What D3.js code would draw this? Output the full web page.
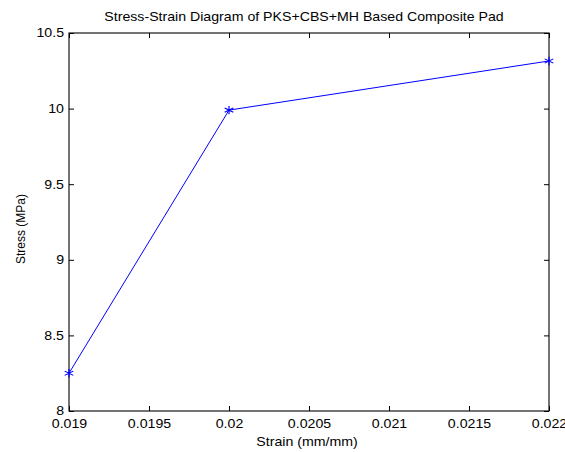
<!DOCTYPE html>
<html>
<head>
<meta charset="utf-8">
<script src="https://cdn.jsdelivr.net/npm/d3@7"></script>
<style>
  html, body { margin: 0; padding: 0; background: #fff; }
  svg text { font-family: "Liberation Sans", Arial, sans-serif; fill: #000; }
</style>
</head>
<body>
<script>
// Measured strain / stress pairs
const strain = [0.019, 0.020, 0.022];
const stress = [8.25, 9.99, 10.315];

const xTicks = [0.019, 0.0195, 0.02, 0.0205, 0.021, 0.0215, 0.022];
const xTickLabels = ["0.019", "0.0195", "0.02", "0.0205", "0.021", "0.0215", "0.022"];
const yTicks = [8, 8.5, 9, 9.5, 10, 10.5];
const yTickLabels = ["8", "8.5", "9", "9.5", "10", "10.5"];

const titleText = "Stress-Strain Diagram of PKS+CBS+MH Based Composite Pad";
const xLabelText = "Strain (mm/mm)";
const yLabelText = "Stress (MPa)";

const W = 565, H = 452;
const m = { left: 69, right: 16, top: 33, bottom: 41 };
const FS = 12;       // base font size
const SX = 1.18;     // horizontal stretch of horizontal text

const svg = d3.select("body").append("svg")
  .attr("width", W).attr("height", H);

const x = d3.scaleLinear().domain([0.019, 0.022]).range([m.left, W - m.right]);
const y = d3.scaleLinear().domain([8, 10.5]).range([H - m.bottom, m.top]);

const x0 = x.range()[0], x1 = x.range()[1];
const y0 = y.range()[0], y1 = y.range()[1];
const tickLen = 5;

// axes with inward ticks
const gx = svg.append("g").attr("transform", `translate(0,${y0})`)
  .call(d3.axisBottom(x).tickValues(xTicks).tickFormat((d, i) => xTickLabels[i])
    .tickSizeInner(-tickLen).tickSizeOuter(0).tickPadding(8));
const gy = svg.append("g").attr("transform", `translate(${x0},0)`)
  .call(d3.axisLeft(y).tickValues(yTicks).tickFormat((d, i) => yTickLabels[i])
    .tickSizeInner(-tickLen).tickSizeOuter(0).tickPadding(5));
const gxt = svg.append("g").attr("transform", `translate(0,${y1})`)
  .call(d3.axisTop(x).tickValues(xTicks).tickFormat("")
    .tickSizeInner(-tickLen).tickSizeOuter(0));
const gyr = svg.append("g").attr("transform", `translate(${x1},0)`)
  .call(d3.axisRight(y).tickValues(yTicks).tickFormat("")
    .tickSizeInner(-tickLen).tickSizeOuter(0));

[gx, gy, gxt, gyr].forEach(g => {
  g.select(".domain").remove();
  g.selectAll("line").attr("stroke", "#000").attr("stroke-width", 1);
  g.selectAll("text")
    .attr("font-size", FS).attr("fill", "#000")
    .attr("font-family", "'Liberation Sans', Arial, sans-serif")
    .each(function () {
      // widen each tick label around its own anchor point
      const t = d3.select(this);
      const tx = +t.attr("x") || 0, ty = +t.attr("y") || 0;
      t.attr("x", 0).attr("y", 0)
        .attr("transform", `translate(${tx},${ty}) scale(${SX},1)`);
    });
});

// plot box
svg.append("rect")
  .attr("x", x0).attr("y", y1)
  .attr("width", x1 - x0).attr("height", y0 - y1)
  .attr("fill", "none").attr("stroke", "#000").attr("stroke-width", 1.1);

const pts = strain.map((s, i) => [s, stress[i]]);

svg.append("path")
  .datum(pts)
  .attr("fill", "none")
  .attr("stroke", "#0000ff")
  .attr("stroke-width", 1)
  .attr("d", d3.line().x(d => x(d[0])).y(d => y(d[1])));

// asterisk markers
const star = d3.symbol().type(d3.symbolAsterisk).size(50);
svg.selectAll(".mk").data(pts).enter().append("path")
  .attr("class", "mk")
  .attr("transform", d => `translate(${x(d[0])},${y(d[1])}) scale(${SX},1)`)
  .attr("d", star)
  .attr("fill", "none")
  .attr("stroke", "#0000ff")
  .attr("stroke-width", 1);

// title and axis labels
svg.append("text")
  .attr("transform", `translate(304,21) scale(${SX},1)`)
  .attr("text-anchor", "middle").attr("font-size", FS)
  .text(titleText);

svg.append("text")
  .attr("transform", `translate(307,446) scale(${SX},1)`)
  .attr("text-anchor", "middle").attr("font-size", FS)
  .text(xLabelText);

svg.append("text")
  .attr("transform", `translate(25,229) rotate(-90)`)
  .attr("text-anchor", "middle").attr("font-size", FS)
  .text(yLabelText);
</script>
</body>
</html>
